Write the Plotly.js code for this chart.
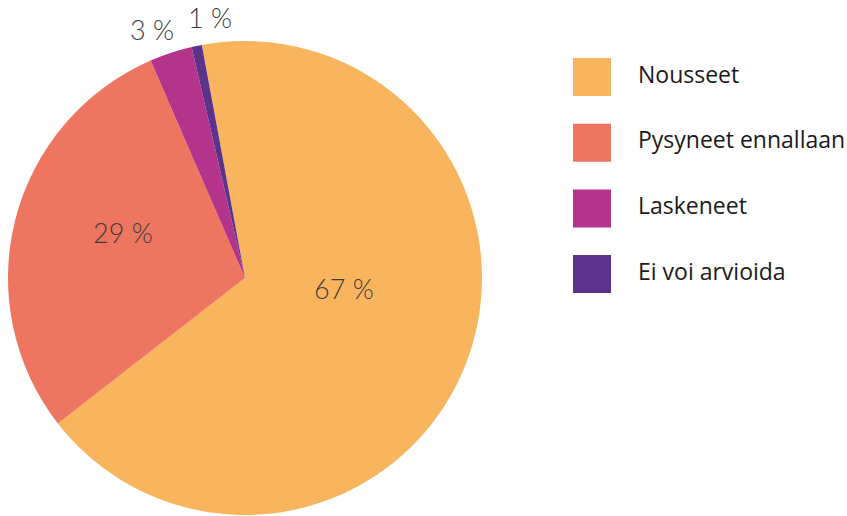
<!DOCTYPE html>
<html><head><meta charset="utf-8">
<script src="https://cdn.plot.ly/plotly-3.0.1.min.js"></script>
<style>html,body{margin:0;padding:0;background:#fff;}#chart{width:847px;height:516px;}</style>
</head><body><div id="chart"></div>
<script>
const labels = ["Nousseet", "Pysyneet ennallaan", "Laskeneet", "Ei voi arvioida"];
const values = [67.4, 29.0, 2.9, 0.7];
const colors = ["#F9B55E", "#EE7560", "#B3348A", "#5B338A"];
const textLabels = values.map(v => Math.round(v) + " %");

// label placement style (radius as fraction of pie radius, angle shift in degrees)
const labelR = [0.42, 0.547, 1.118, 1.107];
const labelDA = [-15.0, 6.0, -2.3, 4.1];

const W = 847, H = 516;
const rotation = -10.5;
const cx = 245, cy = 278, R = 237;
const shapes = [], annotations = [];

// legend
labels.forEach((lab, i) => {
  const top = 58 + i * 65.7;
  shapes.push({type: "rect", xref: "paper", yref: "paper",
    x0: 573 / W, x1: 611 / W, y0: 1 - (top + 38) / H, y1: 1 - top / H,
    fillcolor: colors[i], line: {width: 0}});
  annotations.push({xref: "paper", yref: "paper", x: 636 / W, y: 1 - (top + 15.5) / H,
    xanchor: "left", yanchor: "middle", text: lab, showarrow: false,
    font: {family: "Open Sans, sans-serif", size: 23, color: "#1a1a1a"}});
});

// percent labels positioned from slice mid-angles
const total = values.reduce((a, b) => a + b, 0);
let cum = 0;
values.forEach((v, i) => {
  const mid = rotation + (cum + v / 2) / total * 360 + labelDA[i];
  cum += v;
  const a = mid * Math.PI / 180;
  const px = cx + Math.sin(a) * R * labelR[i];
  const py = cy - Math.cos(a) * R * labelR[i];
  annotations.push({xref: "paper", yref: "paper", x: px / W, y: 1 - py / H,
    xanchor: "center", yanchor: "middle", text: textLabels[i], showarrow: false,
    font: {family: "Lato, sans-serif", size: 27, color: "#3d3d3d", weight: 300}});
});

const data = [{
  type: "pie", labels: labels, values: values,
  textinfo: "none", sort: false, direction: "clockwise", rotation: rotation,
  marker: {colors: colors, line: {width: 0}},
  automargin: false,
  domain: {x: [(cx - R) / W, (cx + R) / W], y: [1 - (cy + R) / H, 1 - (cy - R) / H]},
  hoverinfo: "label+percent", showlegend: false
}];
const layout = {width: W, height: H, margin: {l: 0, r: 0, t: 0, b: 0},
  paper_bgcolor: "#fff", showlegend: false, shapes: shapes, annotations: annotations};
Plotly.newPlot("chart", data, layout, {displayModeBar: false, staticPlot: true});
</script></body></html>
